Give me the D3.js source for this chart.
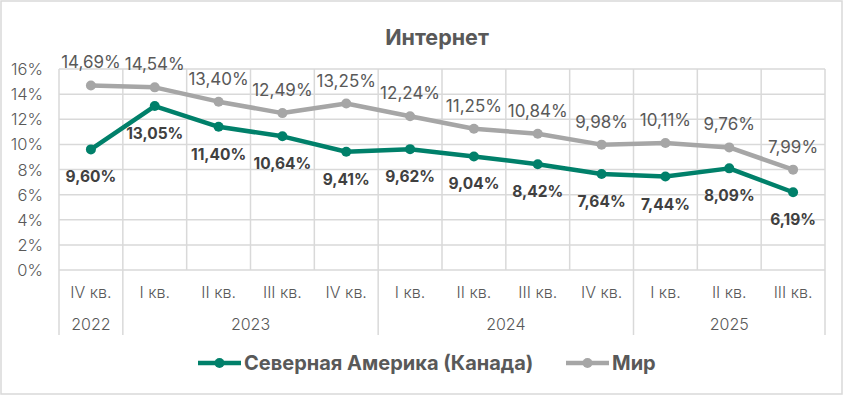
<!DOCTYPE html>
<html>
<head>
<meta charset="utf-8">
<script src="https://cdn.jsdelivr.net/npm/d3@7"></script>
<style>
  body { margin: 0; background: #fff; }
  text { font-family: Inter, "Open Sans", sans-serif; }
</style>
</head>
<body>
<svg id="chart" width="849" height="396"></svg>
<script>
'use strict';

// data
const quarters = ['IV кв.', 'I кв.', 'II кв.', 'III кв.', 'IV кв.', 'I кв.', 'II кв.', 'III кв.', 'IV кв.', 'I кв.', 'II кв.', 'III кв.'];
const years = [
    { name: '2022', from: 0, to: 0 },
    { name: '2023', from: 1, to: 4 },
    { name: '2024', from: 5, to: 8 },
    { name: '2025', from: 9, to: 11 }
];
const northAmerica = [9.60, 13.05, 11.40, 10.64, 9.41, 9.62, 9.04, 8.42, 7.64, 7.44, 8.09, 6.19];
const world = [14.69, 14.54, 13.40, 12.49, 13.25, 12.24, 11.25, 10.84, 9.98, 10.11, 9.76, 7.99];
const yTicks = [0, 2, 4, 6, 8, 10, 12, 14, 16];

const green = '#00806a';
const grey = '#a6a6a6';
const gridColor = '#d9d9d9';
const textColor = '#595959';

const svg = d3.select('#chart');

// outer frame
svg.append('rect')
    .attr('x', 1).attr('y', 1)
    .attr('width', 841).attr('height', 393)
    .attr('fill', '#fff')
    .attr('stroke', gridColor)
    .attr('stroke-width', 1.5);

const plotLeft = 59, plotRight = 825, plotTop = 69, plotBottom = 270;

const x = d3.scaleBand()
    .domain(d3.range(quarters.length))
    .range([plotLeft, plotRight])
    .padding(0);

const y = d3.scaleLinear()
    .domain([0, 16])
    .range([plotBottom, plotTop]);

const fmt = v => v.toFixed(2).replace('.', ',') + '%';

// title
svg.append('text')
    .attr('x', 437).attr('y', 45)
    .attr('text-anchor', 'middle')
    .attr('font-size', 21.5)
    .attr('font-weight', 'bold')
    .attr('fill', textColor)
    .text('Интернет');

// horizontal grid
svg.append('g')
    .selectAll('line')
    .data(yTicks)
    .join('line')
    .attr('x1', plotLeft).attr('x2', plotRight)
    .attr('y1', d => y(d)).attr('y2', d => y(d))
    .attr('stroke', gridColor)
    .attr('stroke-width', 1.5);

// vertical grid between categories
const boundaries = d3.range(quarters.length + 1);
const groupStarts = new Set(years.map(d => d.from).concat([quarters.length]));
svg.append('g')
    .selectAll('line')
    .data(boundaries)
    .join('line')
    .attr('x1', d => plotLeft + d * x.bandwidth())
    .attr('x2', d => plotLeft + d * x.bandwidth())
    .attr('y1', plotTop)
    .attr('y2', d => groupStarts.has(d) ? 335 : plotBottom)
    .attr('stroke', gridColor)
    .attr('stroke-width', 1.5);

// y axis labels
svg.append('g')
    .selectAll('text')
    .data(yTicks)
    .join('text')
    .attr('x', 43)
    .attr('y', d => y(d) + 6)
    .attr('text-anchor', 'end')
    .attr('font-size', 16.5)
    .attr('font-weight', 300)
    .attr('fill', textColor)
    .text(d => d + '%');

// quarter labels
svg.append('g')
    .selectAll('text')
    .data(quarters)
    .join('text')
    .attr('x', (d, i) => x(i) + x.bandwidth() / 2)
    .attr('y', 298)
    .attr('text-anchor', 'middle')
    .attr('font-size', 16)
    .attr('font-weight', 300)
    .attr('fill', textColor)
    .text(d => d);

// year labels
svg.append('g')
    .selectAll('text')
    .data(years)
    .join('text')
    .attr('x', d => (x(d.from) + x(d.to) + x.bandwidth()) / 2)
    .attr('y', 330)
    .attr('text-anchor', 'middle')
    .attr('font-size', 16)
    .attr('font-weight', 300)
    .attr('fill', textColor)
    .text(d => d.name);

const line = d3.line()
    .x((d, i) => x(i) + x.bandwidth() / 2)
    .y(d => y(d));

function drawSeries(values, color) {
    svg.append('path')
        .datum(values)
        .attr('d', line)
        .attr('fill', 'none')
        .attr('stroke', color)
        .attr('stroke-width', 4.5)
        .attr('stroke-linejoin', 'round');
    svg.append('g')
        .selectAll('circle')
        .data(values)
        .join('circle')
        .attr('cx', (d, i) => x(i) + x.bandwidth() / 2)
        .attr('cy', d => y(d))
        .attr('r', 5)
        .attr('fill', color);
}

drawSeries(world, grey);
drawSeries(northAmerica, green);

// world labels (above)
svg.append('g')
    .selectAll('text')
    .data(world)
    .join('text')
    .attr('x', (d, i) => x(i) + x.bandwidth() / 2)
    .attr('y', d => y(d) - 17)
    .attr('text-anchor', 'middle')
    .attr('font-size', 17)
    .attr('fill', textColor)
    .text(fmt);

// north america labels (below)
svg.append('g')
    .selectAll('text')
    .data(northAmerica)
    .join('text')
    .attr('x', (d, i) => x(i) + x.bandwidth() / 2)
    .attr('y', d => y(d) + 33)
    .attr('text-anchor', 'middle')
    .attr('font-size', 15.5)
    .attr('font-weight', 'bold')
    .attr('fill', '#404040')
    .text(fmt);

// legend
const legend = [
    { name: 'Северная Америка (Канада)', color: green, x: 198 },
    { name: 'Мир', color: grey, x: 566 }
];
const lg = svg.append('g')
    .selectAll('g')
    .data(legend)
    .join('g')
    .attr('transform', d => `translate(${d.x},363)`);
lg.append('line')
    .attr('x1', 0).attr('x2', 43)
    .attr('stroke', d => d.color)
    .attr('stroke-width', 4.5);
lg.append('circle')
    .attr('cx', 21.5).attr('r', 5)
    .attr('fill', d => d.color);
lg.append('text')
    .attr('x', 46).attr('y', 7)
    .attr('font-size', 20)
    .attr('font-weight', 'bold')
    .attr('fill', textColor)
    .text(d => d.name);
</script>
</body>
</html>
